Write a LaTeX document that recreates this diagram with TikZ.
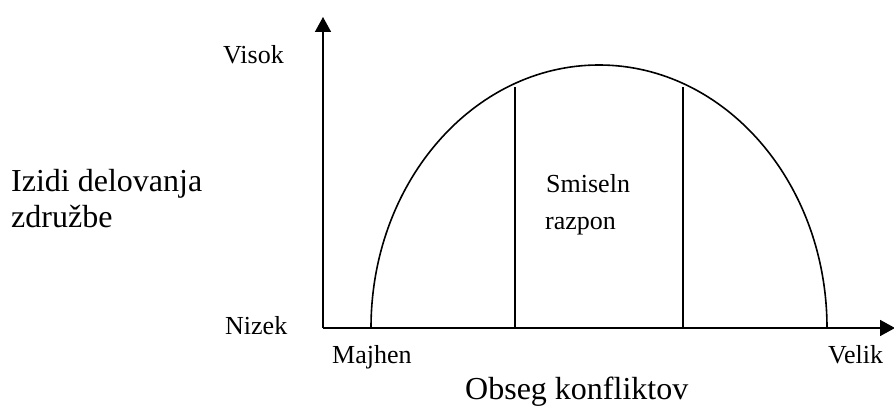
\documentclass[tikz,border=0pt]{standalone}
\usepackage{fontspec}
\setmainfont{Liberation Serif}
\usetikzlibrary{arrows.meta, positioning}
\newcommand{\lblsize}{\fontsize{26}{31}\selectfont}
\newcommand{\ttlsize}{\fontsize{32}{36}\selectfont}

\begin{document}
\begin{tikzpicture}[x=1pt, y=1pt,
    axis/.style={line width=1.6pt, -{Triangle[length=15pt, width=16pt]}},
    curve/.style={line width=1.6pt},
    lbl/.style={anchor=base west, inner sep=0pt, font=\lblsize},
    ttl/.style={anchor=base west, inner sep=0pt, font=\ttlsize, align=left}]
  \useasboundingbox (0,0) rectangle (894,406);

  % axes
  \coordinate (o) at (323,78);
  \coordinate (ytop) at (323,389);
  \coordinate (xend) at (895,78);
  \draw[axis] (o) -- (ytop);
  \draw[axis] (o) -- (xend);

  % half ellipse and the two bounds
  \coordinate (arcstart) at (371,78);
  \draw[curve] (arcstart) arc[start angle=180, end angle=0, x radius=228, y radius=263];
  \coordinate (lowbot) at (515,78);
  \coordinate (lowtop) at (515,319);
  \coordinate (highbot) at (683,78);
  \coordinate (hightop) at (683,319);
  \draw[curve] (lowbot) -- (lowtop);
  \draw[curve] (highbot) -- (hightop);

  % labels
  \node[lbl] (visok) at (223,342) {Visok};
  \node[lbl] (nizek) at (225,71) {Nizek};
  \node[lbl] (majhen) at (332,42) {Majhen};
  \node[lbl] (velik) at (828,42) {Velik};
  \node[lbl] (smiseln) at (546,213) {Smiseln};
  \node[lbl] (razpon) at (545,176) {razpon};
  \node[ttl] (izidi) at (11,178) {Izidi delovanja\\združbe};
  \node[ttl] (obseg) at (465,6) {Obseg konfliktov};
\end{tikzpicture}
\end{document}
